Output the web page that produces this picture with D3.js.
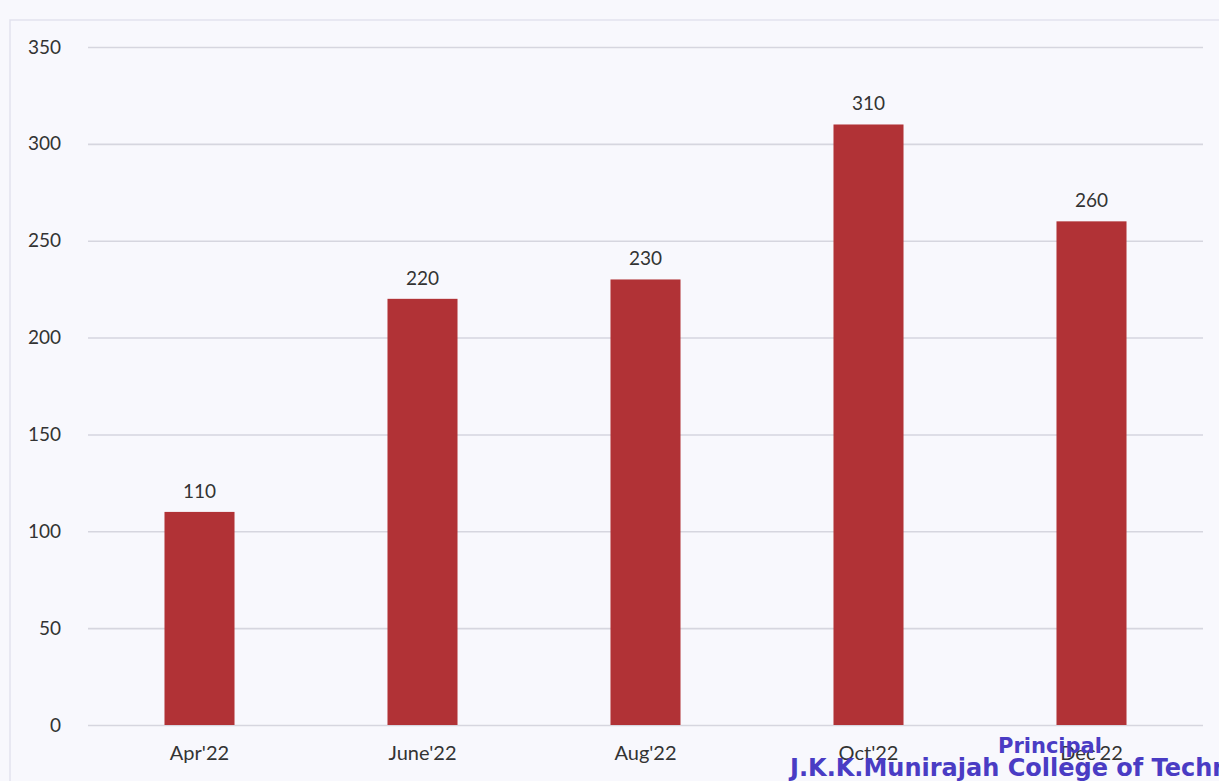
<!DOCTYPE html>
<html>
<head>
<meta charset="utf-8">
<script src="https://cdn.jsdelivr.net/npm/d3@7"></script>
<style>
  body { margin: 0; background: #f8f8fd; }
  svg { display: block; }
</style>
</head>
<body>
<div id="chart"></div>
<script>
// chart values
months = ["Apr'22", "June'22", "Aug'22", "Oct'22", "Dec'22"];
counts = [110, 220, 230, 310, 260];
yTicks = [0, 50, 100, 150, 200, 250, 300, 350];

W = 1219; H = 781;
margin = ({top: 47, right: 16, bottom: 56, left: 88});
plotW = W - margin.left - margin.right;
plotH = H - margin.top - margin.bottom;

const svg = d3.select("#chart").append("svg")
    .attr("width", W)
    .attr("height", H)
    .style("font-family", "Lato, 'Open Sans', sans-serif");

svg.append("rect")
    .attr("width", W).attr("height", H)
    .attr("fill", "#f8f8fd");

// faint frame of the scanned chart
svg.append("rect")
    .attr("x", 10).attr("y", 20)
    .attr("width", W + 20).attr("height", H)
    .attr("fill", "none")
    .attr("stroke", "#e2e2ee")
    .attr("stroke-width", 1.5);

const g = svg.append("g")
    .attr("transform", `translate(${margin.left}, ${margin.top})`);

x = d3.scaleBand()
    .domain(months)
    .range([0, plotW])
    .paddingInner(0.686)
    .paddingOuter(0.343);

y = d3.scaleLinear()
    .domain([0, 350])
    .range([plotH, 0]);

// gridlines + y labels
const yAxis = g.append("g")
    .call(d3.axisLeft(y).tickValues(yTicks).tickSize(-plotW).tickPadding(27));
yAxis.select(".domain").remove();
yAxis.selectAll(".tick line")
    .attr("stroke", "#d6d6df")
    .attr("stroke-width", 1.6);
yAxis.selectAll(".tick text")
    .attr("fill", "#333")
    .attr("font-size", "19px")
    .attr("font-family", "Lato, 'Open Sans', sans-serif");

// x labels
const xAxis = g.append("g")
    .attr("transform", `translate(0, ${plotH})`)
    .call(d3.axisBottom(x).tickSize(0).tickPadding(21));
xAxis.select(".domain").remove();
xAxis.selectAll(".tick text")
    .attr("fill", "#333")
    .attr("font-size", "20px")
    .attr("font-family", "Lato, 'Open Sans', sans-serif");

// bars
g.selectAll("rect.bar")
    .data(counts)
    .join("rect")
    .attr("class", "bar")
    .attr("x", (d, i) => x(months[i]))
    .attr("y", d => y(d))
    .attr("width", x.bandwidth())
    .attr("height", d => plotH - y(d))
    .attr("fill", "#b13236");

// value labels
g.selectAll("text.val")
    .data(counts)
    .join("text")
    .attr("class", "val")
    .attr("x", (d, i) => x(months[i]) + x.bandwidth() / 2)
    .attr("y", d => y(d) - 14)
    .attr("text-anchor", "middle")
    .attr("fill", "#333")
    .attr("font-size", "19px")
    .text(d => d);

// principal's stamp over the bottom right corner (runs off the page like the scan)
svg.append("text")
    .attr("x", 1050)
    .attr("y", 753)
    .attr("text-anchor", "middle")
    .attr("fill", "#4a3cc4")
    .attr("font-weight", "bold")
    .attr("font-size", "21px")
    .attr("font-family", "'DejaVu Sans', sans-serif")
    .text("Principal");

svg.append("text")
    .attr("x", 790)
    .attr("y", 776)
    .attr("fill", "#4a3cc4")
    .attr("font-weight", "bold")
    .attr("font-size", "24px")
    .attr("font-family", "'DejaVu Sans', sans-serif")
    .text("J.K.K.Munirajah College of Techn");
</script>
</body>
</html>
